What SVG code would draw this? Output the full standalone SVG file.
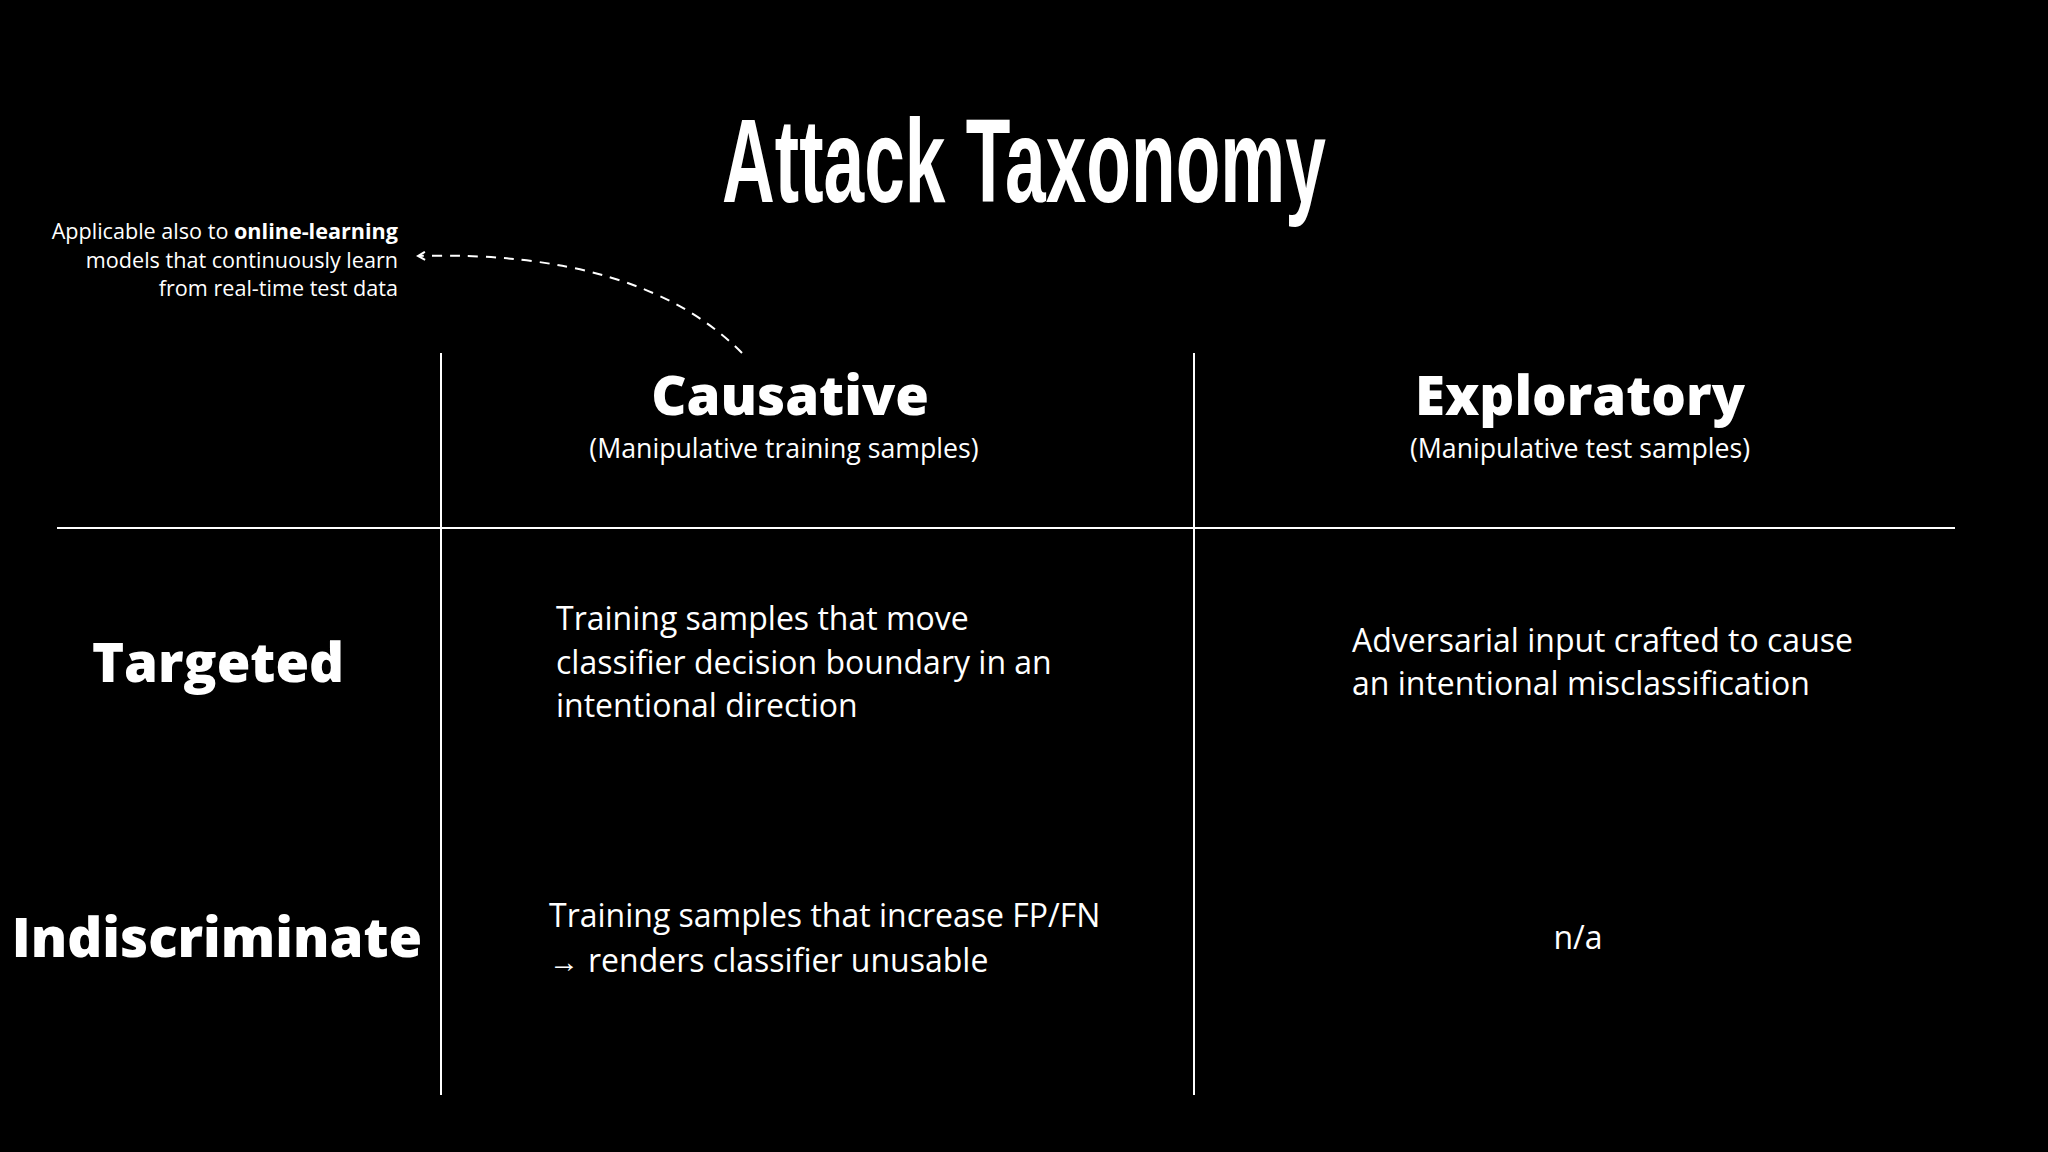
<svg xmlns="http://www.w3.org/2000/svg" width="2048" height="1152" viewBox="0 0 2048 1152">
<defs>
<style>
text{fill:#fff;font-family:"Open Sans","Noto Sans",sans-serif}
.h{font-weight:800;font-size:54.5px;text-anchor:middle}
.s{font-size:26.7px;text-anchor:middle}
.c{font-size:32px}
.a{font-size:21.6px;text-anchor:end}
.ln{stroke:#fff;stroke-width:2;fill:none}
</style>
<marker id="ah" markerWidth="10" markerHeight="10" refX="8" refY="5" orient="auto" markerUnits="userSpaceOnUse"><path d="M1,1 L8,5 L1,9" fill="none" stroke="#fff" stroke-width="2"/></marker>
</defs>
<rect width="2048" height="1152" fill="#000"/>
<text x="1024" y="202" font-weight="700" font-size="118" text-anchor="middle" textLength="604" lengthAdjust="spacingAndGlyphs" style="font-family:'Liberation Sans',sans-serif">Attack Taxonomy</text>
<g id="connectors">
<line class="ln" x1="441" y1="353" x2="441" y2="1095"/>
<line class="ln" x1="1194" y1="353" x2="1194" y2="1095"/>
<line class="ln" x1="57" y1="528" x2="1955" y2="528"/>
<path class="ln" d="M742,353 Q640,250 418,256" stroke-dasharray="10,8" marker-end="url(#ah)"/>
</g>
<g id="note"><text class="a" x="398" y="239">Applicable also to <tspan font-weight="700">online-learning</tspan></text>
<text class="a" x="398" y="268">models that continuously learn</text>
<text class="a" x="398" y="296">from real-time test data</text></g>
<g id="causative"><text class="h" x="790" y="415">Causative</text><text class="s" x="784" y="458">(Manipulative training samples)</text></g>
<g id="exploratory"><text class="h" x="1580" y="415">Exploratory</text><text class="s" x="1580" y="458">(Manipulative test samples)</text></g>
<g id="targeted"><text class="h" x="218" y="682">Targeted</text></g>
<g id="indiscriminate"><text class="h" x="217" y="957" font-size="56">Indiscriminate</text></g>
<g id="ct"><text class="c" x="556" y="630">Training samples that move</text><text class="c" x="556" y="674">classifier decision boundary in an</text><text class="c" x="556" y="717">intentional direction</text></g>
<g id="et"><text class="c" x="1352" y="652">Adversarial input crafted to cause</text><text class="c" x="1352" y="695">an intentional misclassification</text></g>
<g id="ci"><text class="c" x="549" y="927">Training samples that increase FP/FN</text><text class="c" x="549" y="972"><tspan font-size="30">→</tspan></text><text class="c" x="588" y="972">renders classifier unusable</text></g>
<g id="ei"><text class="c" x="1578" y="949" text-anchor="middle">n/a</text></g>
</svg>
